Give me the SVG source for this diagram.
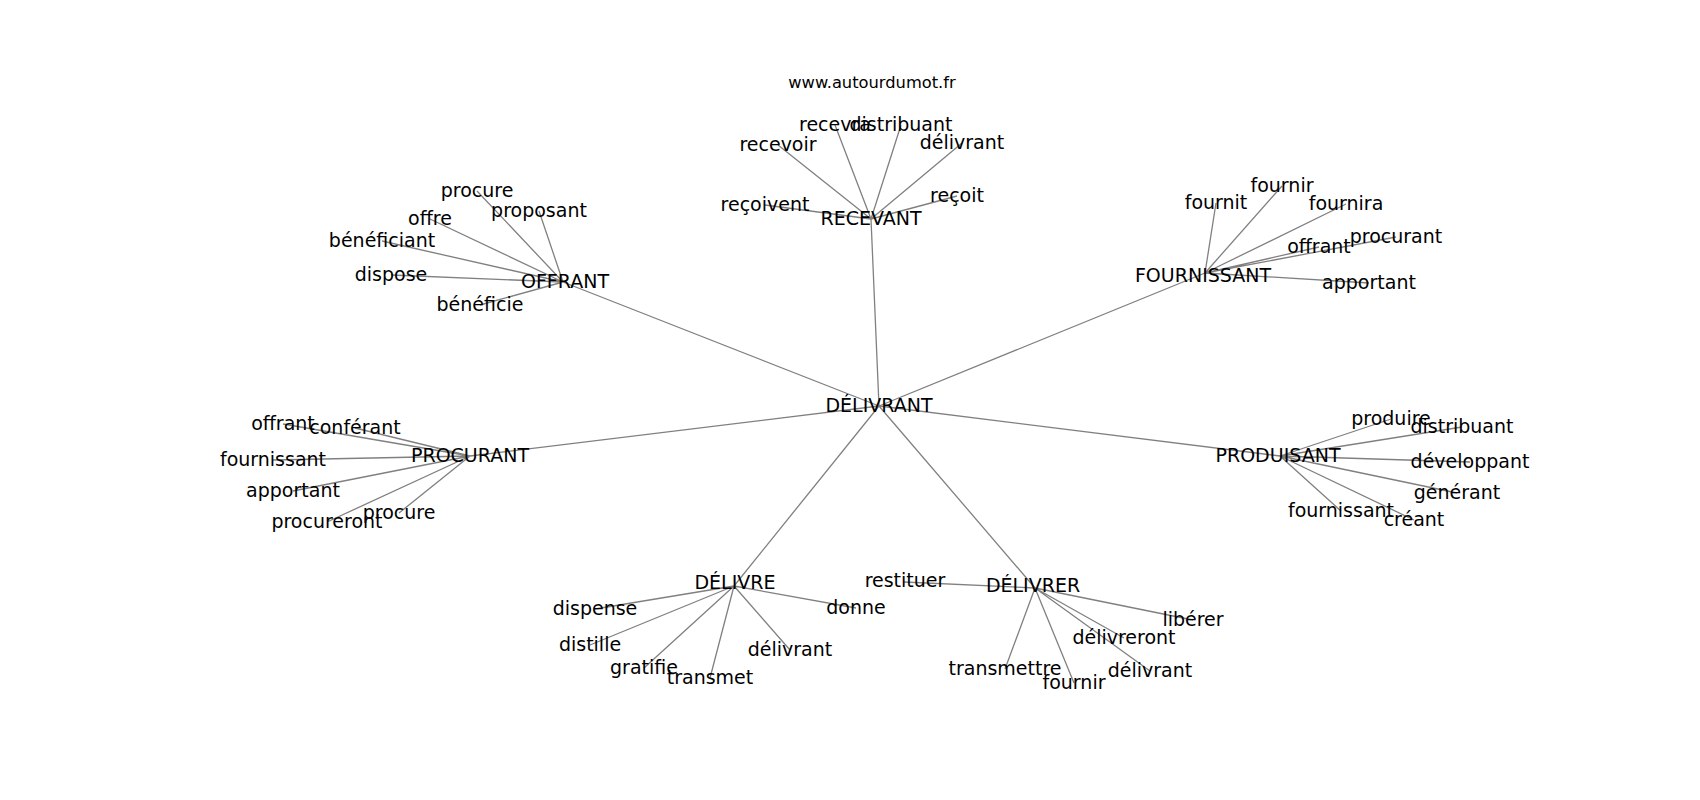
<svg xmlns="http://www.w3.org/2000/svg" width="1700" height="800" viewBox="0 0 1700 800">
<style>
.e{stroke:#808080;stroke-width:1.3;fill:none}
text{font-family:"DejaVu Sans","Liberation Sans",sans-serif;fill:#000;text-anchor:middle}
.l{font-size:19px}
.t{font-size:16.3px}
</style>
<rect width="1700" height="800" fill="#fff"/>
<g id="connectors">
<path class="e" d="M879 406L871 219M879 406L563 282M879 406L1205 273M879 406L470 456M879 406L1280 456M879 406L734 586M879 406L1035 588"/>
<path class="e" d="M871 219L778 145M871 219L835 125M871 219L901 125M871 219L962 143M871 219L957 196M871 219L765 205"/>
<path class="e" d="M563 282L477 191M563 282L539 211M563 282L430 219M563 282L382 241M563 282L391 275M563 282L480 305"/>
<path class="e" d="M1205 273L1216 203M1205 273L1282 186M1205 273L1346 204M1205 273L1396 237M1205 273L1319 247M1205 273L1369 283"/>
<path class="e" d="M470 456L283 424M470 456L355 428M470 456L273 460M470 456L293 491M470 456L327 522M470 456L399 513"/>
<path class="e" d="M1280 456L1391 419M1280 456L1462 427M1280 456L1470 462M1280 456L1457 493M1280 456L1414 520M1280 456L1341 511"/>
<path class="e" d="M734 586L595 609M734 586L590 645M734 586L644 668M734 586L710 678M734 586L790 650M734 586L856 608"/>
<path class="e" d="M1035 588L904 582M1035 588L1193 620M1035 588L1124 638M1035 588L1150 671M1035 588L1074 683M1035 588L1005 669"/>
</g>
<text class="t" x="872" y="88">www.autourdumot.fr</text>
<g id="n-delivrant-center"><text class="l" x="879" y="412">DÉLIVRANT</text></g>
<g id="n-recevant"><text class="l" x="871" y="225">RECEVANT</text></g>
<g id="n-recevoir"><text class="l" x="778" y="151">recevoir</text></g>
<g id="n-recevra"><text class="l" x="835" y="131">recevra</text></g>
<g id="n-distribuant1"><text class="l" x="901" y="131">distribuant</text></g>
<g id="n-delivrant1"><text class="l" x="962" y="149">délivrant</text></g>
<g id="n-recoit"><text class="l" x="957" y="202">reçoit</text></g>
<g id="n-recoivent"><text class="l" x="765" y="211">reçoivent</text></g>
<g id="n-offrant"><text class="l" x="565" y="288">OFFRANT</text></g>
<g id="n-procure1"><text class="l" x="477" y="197">procure</text></g>
<g id="n-proposant"><text class="l" x="539" y="217">proposant</text></g>
<g id="n-offre"><text class="l" x="430" y="225">offre</text></g>
<g id="n-beneficiant"><text class="l" x="382" y="247">bénéficiant</text></g>
<g id="n-dispose"><text class="l" x="391" y="281">dispose</text></g>
<g id="n-beneficie"><text class="l" x="480" y="311">bénéficie</text></g>
<g id="n-fournissant"><text class="l" x="1203" y="282">FOURNISSANT</text></g>
<g id="n-fournit"><text class="l" x="1216" y="209">fournit</text></g>
<g id="n-fournir1"><text class="l" x="1282" y="192">fournir</text></g>
<g id="n-fournira"><text class="l" x="1346" y="210">fournira</text></g>
<g id="n-procurant1"><text class="l" x="1396" y="243">procurant</text></g>
<g id="n-offrant1"><text class="l" x="1319" y="253">offrant</text></g>
<g id="n-apportant1"><text class="l" x="1369" y="289">apportant</text></g>
<g id="n-procurant"><text class="l" x="470" y="462">PROCURANT</text></g>
<g id="n-offrant2"><text class="l" x="283" y="430">offrant</text></g>
<g id="n-conferant"><text class="l" x="355" y="434">conférant</text></g>
<g id="n-fournissant2"><text class="l" x="273" y="466">fournissant</text></g>
<g id="n-apportant2"><text class="l" x="293" y="497">apportant</text></g>
<g id="n-procureront"><text class="l" x="327" y="528">procureront</text></g>
<g id="n-procure2"><text class="l" x="399" y="519">procure</text></g>
<g id="n-produisant"><text class="l" x="1278" y="462">PRODUISANT</text></g>
<g id="n-produire"><text class="l" x="1391" y="425">produire</text></g>
<g id="n-distribuant2"><text class="l" x="1462" y="433">distribuant</text></g>
<g id="n-developpant"><text class="l" x="1470" y="468">développant</text></g>
<g id="n-generant"><text class="l" x="1457" y="499">générant</text></g>
<g id="n-creant"><text class="l" x="1414" y="526">créant</text></g>
<g id="n-fournissant3"><text class="l" x="1341" y="517">fournissant</text></g>
<g id="n-delivre"><text class="l" x="735" y="589">DÉLIVRE</text></g>
<g id="n-dispense"><text class="l" x="595" y="615">dispense</text></g>
<g id="n-distille"><text class="l" x="590" y="651">distille</text></g>
<g id="n-gratifie"><text class="l" x="644" y="674">gratifie</text></g>
<g id="n-transmet"><text class="l" x="710" y="684">transmet</text></g>
<g id="n-delivrant2"><text class="l" x="790" y="656">délivrant</text></g>
<g id="n-donne"><text class="l" x="856" y="614">donne</text></g>
<g id="n-delivrer"><text class="l" x="1033" y="592">DÉLIVRER</text></g>
<g id="n-restituer"><text class="l" x="905" y="587">restituer</text></g>
<g id="n-liberer"><text class="l" x="1193" y="626">libérer</text></g>
<g id="n-delivreront"><text class="l" x="1124" y="644">délivreront</text></g>
<g id="n-delivrant3"><text class="l" x="1150" y="677">délivrant</text></g>
<g id="n-fournir2"><text class="l" x="1074" y="689">fournir</text></g>
<g id="n-transmettre"><text class="l" x="1005" y="675">transmettre</text></g>
</svg>
